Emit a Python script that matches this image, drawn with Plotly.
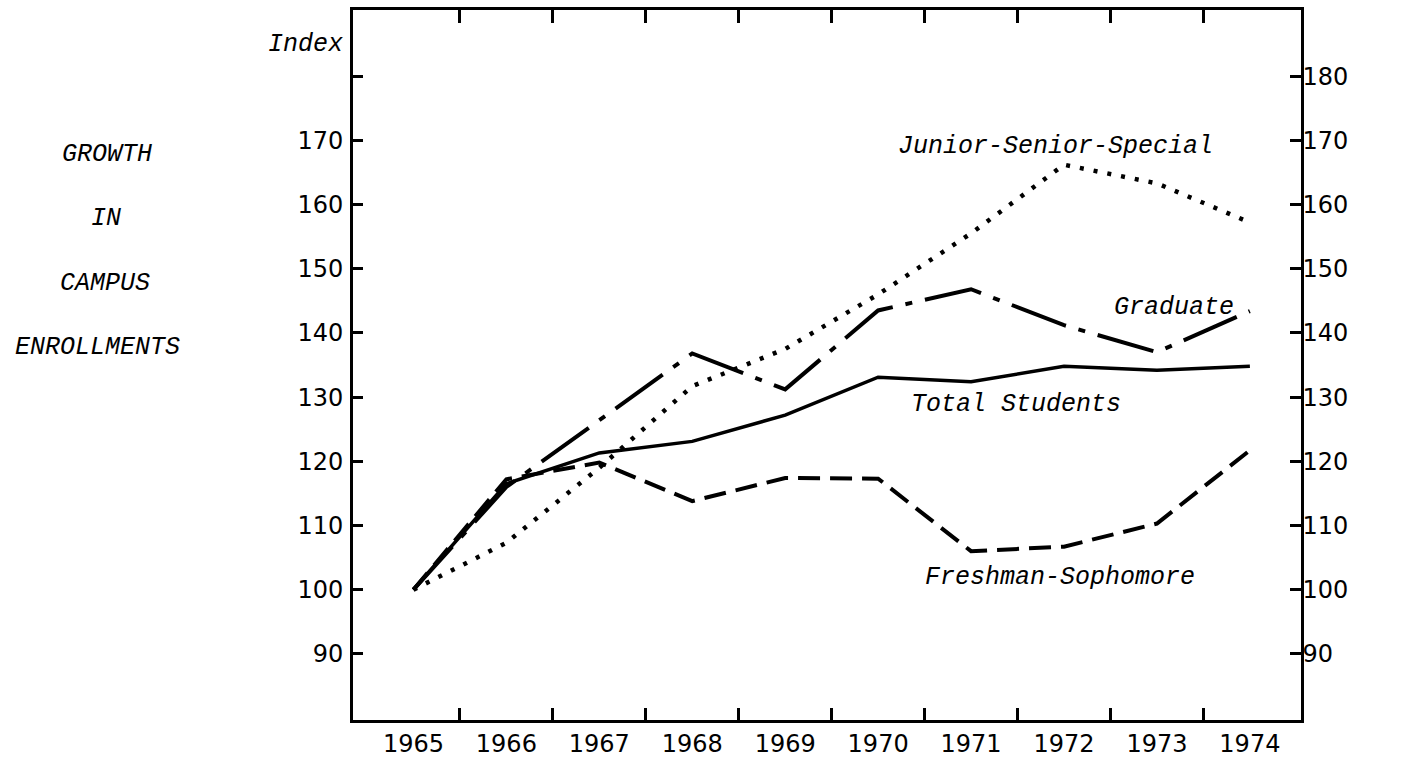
import plotly.graph_objects as go

years = [1965, 1966, 1967, 1968, 1969, 1970, 1971, 1972, 1973, 1974]
total_students = [100, 116.5, 121.3, 123.1, 127.2, 133.1, 132.4, 134.8, 134.2, 134.8]
freshman_sophomore = [100, 117.2, 119.8, 113.8, 117.4, 117.3, 106.0, 106.7, 110.3, 121.7]
graduate = [100, 116.0, 126.4, 136.8, 131.2, 143.5, 146.8, 141.2, 137.0, 143.4]
junior_senior_special = [100, 107.3, 119.0, 131.7, 137.5, 146.0, 155.5, 166.2, 163.3, 157.2]

series_names = ["Total Students", "Freshman-Sophomore", "Graduate", "Junior-Senior-Special"]
y_ticks = [90, 100, 110, 120, 130, 140, 150, 160, 170, 180]
left_tick_text = ["90", "100", "110", "120", "130", "140", "150", "160", "170", ""]
right_tick_text = ["90", "100", "110", "120", "130", "140", "150", "160", "170", "180"]
year_tick_text = [str(y) for y in years]
half_year_ticks = [y + 0.5 for y in years[:-1]]
side_title = ["GROWTH", "IN", "CAMPUS", "ENROLLMENTS"]

X_RANGE = [1964.35, 1974.55]
Y_RANGE = [79.7, 190.3]

TYPE_FONT = "Liberation Mono"
TICK_FONT = "DejaVu Sans"

fig = go.Figure()

styles = {
    "Total Students": dict(dash="solid", width=3.5),
    "Freshman-Sophomore": dict(dash="22px,10px", width=4),
    "Graduate": dict(dash="58px,13px,7px,13px", width=4),
    "Junior-Senior-Special": dict(dash="4px,10px", width=4.5),
}
values = {
    "Total Students": total_students,
    "Freshman-Sophomore": freshman_sophomore,
    "Graduate": graduate,
    "Junior-Senior-Special": junior_senior_special,
}
for name in series_names:
    st = styles[name]
    fig.add_trace(go.Scatter(
        x=years, y=values[name], mode="lines", name=name,
        line=dict(color="black", width=st["width"], dash=st["dash"]),
        showlegend=False, hoverinfo="x+y+name",
    ))

# invisible trace to activate the mirrored axes
fig.add_trace(go.Scatter(x=[years[0]], y=[100], xaxis="x2", yaxis="y2",
                         mode="markers", marker=dict(opacity=0), showlegend=False,
                         hoverinfo="skip"))

fig.update_layout(
    width=1407, height=760,
    margin=dict(l=353, r=106, t=10, b=40),
    paper_bgcolor="white", plot_bgcolor="white",
    xaxis=dict(
        range=X_RANGE, tickmode="array", tickvals=years, ticktext=year_tick_text,
        ticks="", showgrid=False, zeroline=False, automargin=False,
        showline=True, linecolor="black", linewidth=3,
        tickfont=dict(family=TICK_FONT, size=24, color="black"),
        ticklabelstandoff=0,
        minor=dict(tickmode="array", tickvals=half_year_ticks, ticks="inside",
                   ticklen=12, tickwidth=2.5, tickcolor="black", showgrid=False),
    ),
    xaxis2=dict(
        range=X_RANGE, overlaying="x", side="top", tickmode="array",
        tickvals=half_year_ticks, ticktext=["" for _ in half_year_ticks],
        ticks="inside", ticklen=13, tickwidth=2.5, tickcolor="black", automargin=False,
        showgrid=False, zeroline=False, showline=True, linecolor="black", linewidth=3,
    ),
    yaxis=dict(
        range=Y_RANGE, tickmode="array", tickvals=y_ticks, ticktext=left_tick_text,
        ticks="inside", ticklen=10, tickwidth=2.5, tickcolor="black", automargin=False,
        showgrid=False, zeroline=False, showline=True, linecolor="black", linewidth=3,
        tickfont=dict(family=TICK_FONT, size=24, color="black"),
        ticklabelstandoff=2,
    ),
    yaxis2=dict(
        range=Y_RANGE, overlaying="y", side="right", tickmode="array",
        tickvals=y_ticks, ticktext=right_tick_text, automargin=False,
        ticks="inside", ticklen=11, tickwidth=2.5, tickcolor="black",
        showgrid=False, zeroline=False, showline=True, linecolor="black", linewidth=2.5,
        tickfont=dict(family=TICK_FONT, size=24, color="black"),
        ticklabelstandoff=-6,
    ),
)

label_font = dict(family=TYPE_FONT, size=25, color="black", style="italic")

series_labels = [
    ("Junior-Senior-Special", 1971.91, 169.0),
    ("Graduate", 1973.18, 143.9),
    ("Total Students", 1971.48, 128.8),
    ("Freshman-Sophomore", 1971.96, 101.9),
]
for text, lx, ly in series_labels:
    fig.add_annotation(x=lx, y=ly, xref="x", yref="y", text=text, showarrow=False,
                       font=label_font, xanchor="center", yanchor="middle")

fig.add_annotation(x=-0.0084, y=0.951, xref="paper", yref="paper", text="Index",
                   showarrow=False, font=label_font, xanchor="right", yanchor="middle")

side_pos = [(-0.2595, 0.796), (-0.2605, 0.706), (-0.2616, 0.615), (-0.2700, 0.524)]
for text, (px, py) in zip(side_title, side_pos):
    fig.add_annotation(x=px, y=py, xref="paper", yref="paper", text=text,
                       showarrow=False, font=label_font, xanchor="center", yanchor="middle")

fig.write_html("out.html", config={"displayModeBar": False},
               post_script="document.body.style.margin='0';")
